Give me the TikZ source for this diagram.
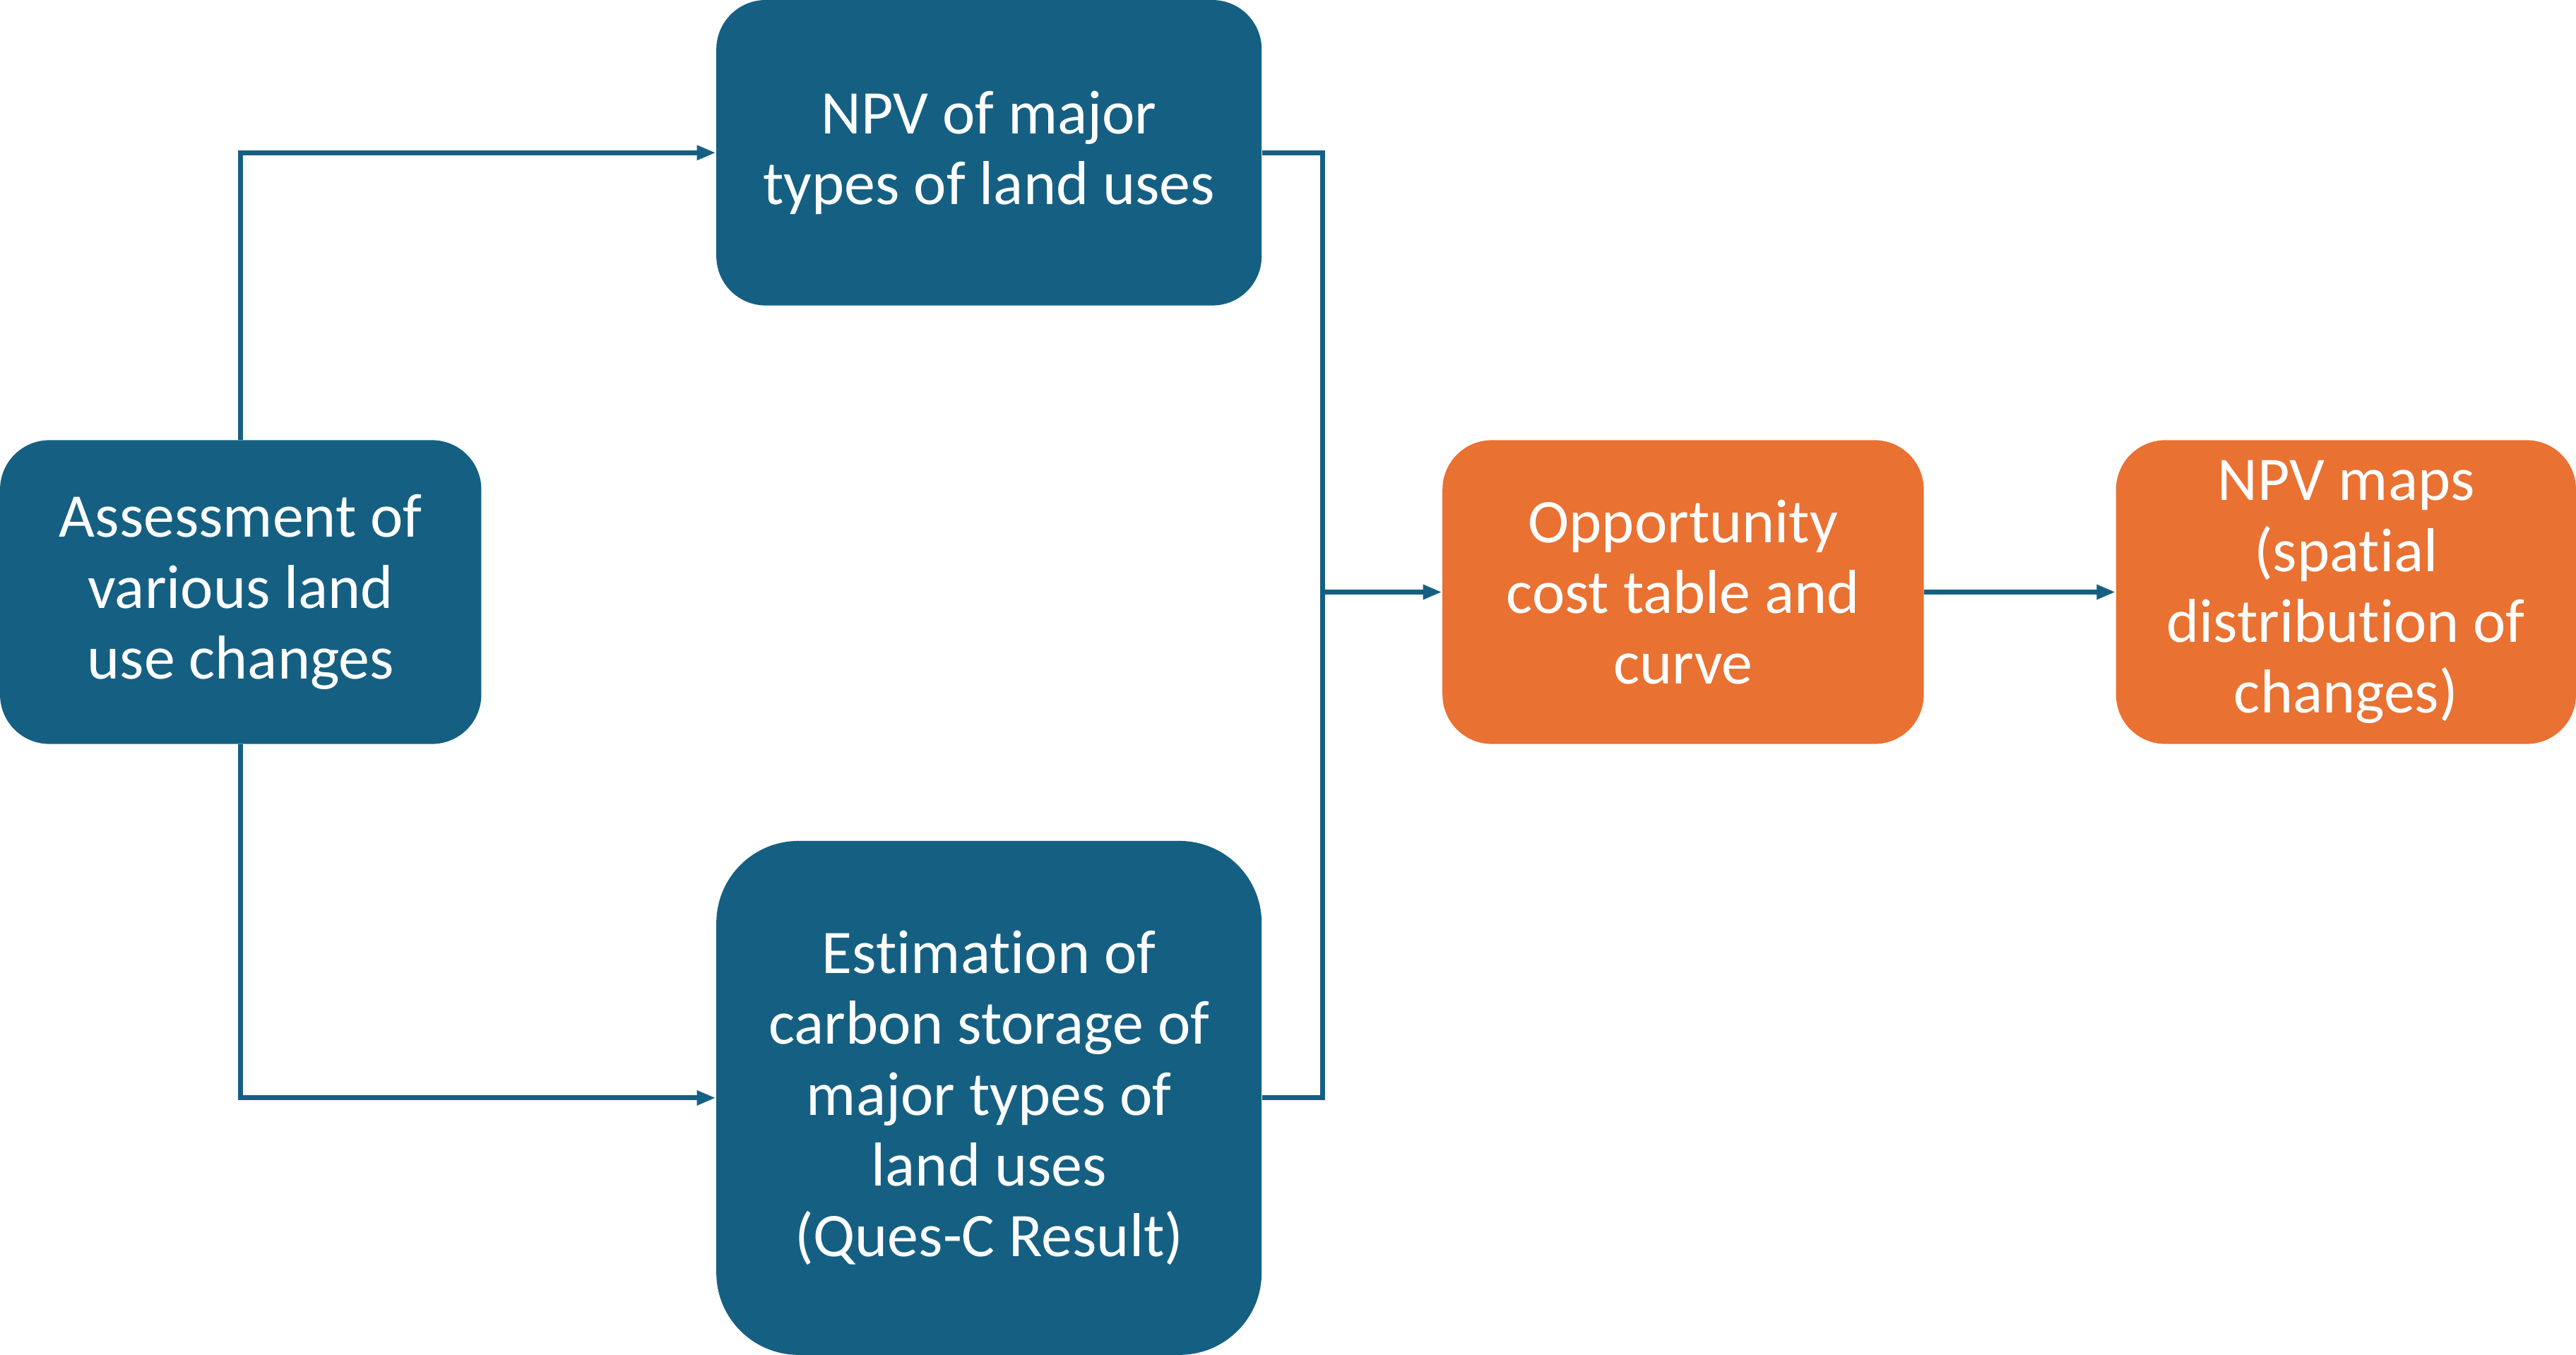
\documentclass[tikz,border=0pt]{standalone}
\usepackage{fontspec}
\setmainfont{Carlito}[Ligatures=NoCommon]
\usepackage{tikz}
\usetikzlibrary{arrows.meta}
\definecolor{lublue}{HTML}{156082}
\definecolor{luorange}{HTML}{E97132}
\tikzset{
  box/.style={fill=lublue, text=white, rounded corners=0.6cm, inner sep=0pt, align=center,
    font=\fontsize{21.5pt}{24.5pt}\selectfont},
  outbox/.style={box, fill=luorange},
  link/.style={draw=lublue, line width=1.7pt},
  arr/.style={link, -{Triangle[length=0.23cm,width=0.17cm]}}
}
\begin{document}
\begin{tikzpicture}[x=0.02cm, y=-0.02cm]
\useasboundingbox (0,0) rectangle (1568,825);
\node[box, minimum width=5.86cm, minimum height=3.7cm] (assess) at (146.5,360.5) {Assessment of\\various land\\use changes};
\node[box, minimum width=6.64cm, minimum height=3.72cm] (npv) at (602,93) {NPV of major\\types of land uses};
\node[box, rounded corners=1cm, minimum width=6.64cm, minimum height=6.26cm] (est) at (602,668.5) {Estimation of\\carbon storage of\\major types of\\land uses\\(Ques-C Result)};
\node[outbox, minimum width=5.86cm, minimum height=3.7cm] (opp) at (1024.5,360.5) {Opportunity\\cost table and\\curve};
\node[outbox, minimum width=5.6cm, minimum height=3.7cm] (maps) at (1428,360.5) {NPV maps\\(spatial\\distribution of\\changes)};
\coordinate (bus) at (805,360.5);
% connectors
\draw[arr] (assess.north) |- (npv.west);
\draw[arr] (assess.south) |- (est.west);
\draw[link] (npv.east) -| (bus) |- (est.east);
\draw[arr] (bus) -- (opp.west);
\draw[arr] (opp.east) -- (maps.west);
\end{tikzpicture}
\end{document}
